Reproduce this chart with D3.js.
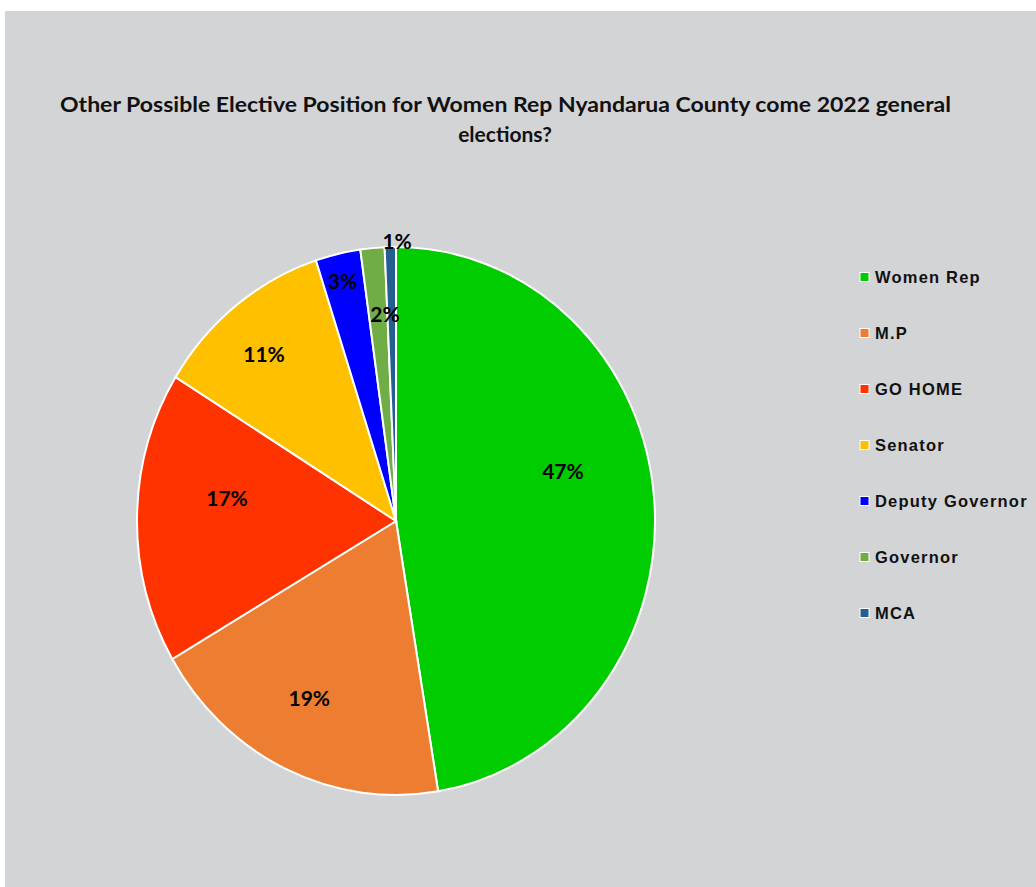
<!DOCTYPE html>
<html><head><meta charset="utf-8">
<script src="https://cdn.jsdelivr.net/npm/d3@7"></script>
<style>html,body{margin:0;padding:0;background:#fff;}svg{display:block;}</style>
</head><body>
<svg id="chart" width="1036" height="887"></svg>
<script>
const categories = ["Women Rep", "M.P", "GO HOME", "Senator", "Deputy Governor", "Governor", "MCA"];
const values = [47.4, 19.2, 17.2, 11.2, 2.8, 1.5, 0.7];
const labels = ["47%", "19%", "17%", "11%", "3%", "2%", "1%"];
const colors = ["#00cc00", "#ed7d31", "#ff3300", "#ffc000", "#0000ff", "#70ad47", "#255e91"];
const titleLines = ["Other Possible Elective Position for Women Rep Nyandarua County come 2022 general", "elections?"];
// label placement: [radius fraction, angle shift in degrees]
const labelPlacement = [[0.671, -11.4], [0.725, 2.3], [0.658, 6.7], [0.795, -1.7], [0.9, -0.3], [0.76, 2], [1.025, 1.5]];

const svg = d3.select("#chart");
svg.append("rect").attr("x", 5).attr("y", 11).attr("width", 1031).attr("height", 876).attr("fill", "#d3d4d6");

const cx = 396, cy = 521, rx = 259, ry = 274;
const pie = d3.pie().sort(null).value(d => d)(values);
const arc = d3.arc().innerRadius(0).outerRadius(rx);
const g = svg.append("g").attr("transform", `translate(${cx},${cy}) scale(1,${ry / rx})`);
g.selectAll("path").data(pie).join("path")
  .attr("d", arc)
  .attr("fill", (d, i) => colors[i])
  .attr("stroke", "#fff")
  .attr("stroke-width", 2)
  .attr("vector-effect", "non-scaling-stroke");

svg.append("g").selectAll("text").data(pie).join("text")
  .attr("x", (d, i) => {
    const a = (d.startAngle + d.endAngle) / 2 + labelPlacement[i][1] * Math.PI / 180;
    return cx + Math.sin(a) * rx * labelPlacement[i][0];
  })
  .attr("y", (d, i) => {
    const a = (d.startAngle + d.endAngle) / 2 + labelPlacement[i][1] * Math.PI / 180;
    return cy - Math.cos(a) * ry * labelPlacement[i][0];
  })
  .attr("text-anchor", "middle")
  .attr("dominant-baseline", "central")
  .attr("font-family", "Lato, 'Open Sans', sans-serif")
  .attr("font-weight", "bold")
  .attr("font-size", 21)
  .attr("fill", "#000")
  .text((d, i) => labels[i]);

// title
svg.append("text").attr("x", 505.5).attr("y", 103).attr("text-anchor", "middle")
  .attr("dominant-baseline", "central")
  .attr("font-family", "Lato, 'Open Sans', sans-serif").attr("font-weight", "bold").attr("font-size", 21)
  .attr("fill", "#111")
  .attr("textLength", 891).attr("lengthAdjust", "spacingAndGlyphs")
  .text(titleLines[0]);
svg.append("text").attr("x", 505).attr("y", 133).attr("text-anchor", "middle")
  .attr("dominant-baseline", "central")
  .attr("font-family", "Lato, 'Open Sans', sans-serif").attr("font-weight", "bold").attr("font-size", 21)
  .attr("fill", "#111")
  .text(titleLines[1]);

// legend
const legendY = d3.scalePoint().domain(categories).range([277, 613]);
const lg = svg.append("g");
const item = lg.selectAll("g").data(categories).join("g")
  .attr("transform", d => `translate(860,${legendY(d)})`);
item.append("rect").attr("x", 0).attr("y", -4.5).attr("width", 9).attr("height", 9)
  .attr("fill", (d, i) => colors[i]).attr("stroke", "#fff").attr("stroke-width", 1);
item.append("text").attr("x", 15).attr("y", 0).attr("dominant-baseline", "central")
  .attr("font-family", "'Liberation Sans', Arial, sans-serif").attr("font-weight", "bold")
  .attr("font-size", 16.5).attr("letter-spacing", 1.2).attr("fill", "#111")
  .text(d => d);
</script>
</body></html>
